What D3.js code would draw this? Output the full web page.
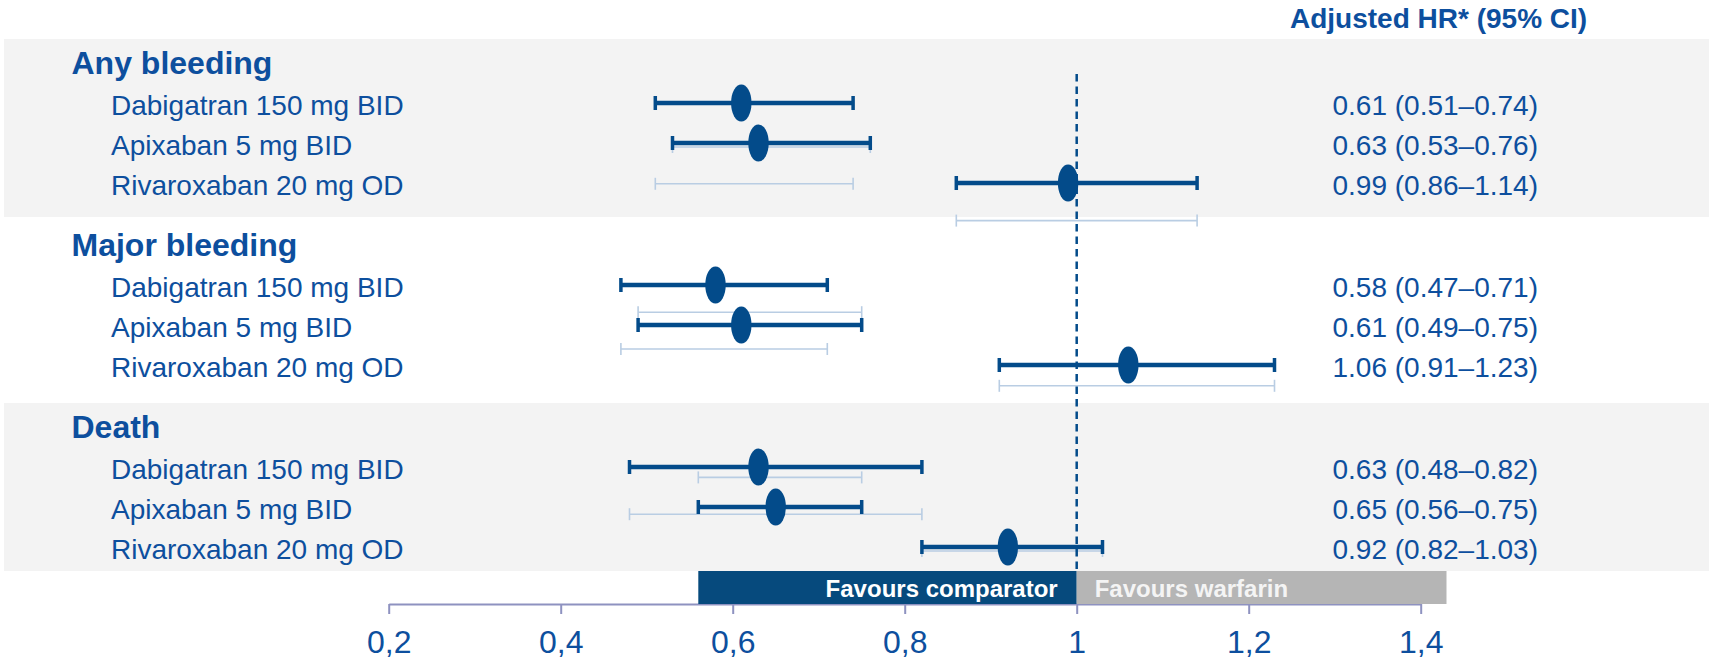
<!DOCTYPE html>
<html>
<head>
<meta charset="utf-8">
<script src="https://cdn.jsdelivr.net/npm/d3@7/dist/d3.min.js"></script>
<style>
  html, body { margin: 0; padding: 0; background: #ffffff; }
  svg { display: block; font-family: "Liberation Sans", Arial, sans-serif; }
</style>
</head>
<body>
<svg id="chart" width="1709" height="663"></svg>
<script>
// ---- data ----
const outcomes = ["Any bleeding", "Major bleeding", "Death"];
const treatments = ["Dabigatran 150 mg BID", "Apixaban 5 mg BID", "Rivaroxaban 20 mg OD"];
// adjusted hazard ratios, one row per outcome x treatment (outcome-major order)
const hrEstimate = [0.61, 0.63, 0.99,  0.58, 0.61, 1.06,  0.63, 0.65, 0.92];
const ciLower    = [0.51, 0.53, 0.86,  0.47, 0.49, 0.91,  0.48, 0.56, 0.82];
const ciUpper    = [0.74, 0.76, 1.14,  0.71, 0.75, 1.23,  0.82, 0.75, 1.03];
// faint reference intervals drawn behind each block (treatment index per faint line)
const faintOrder = [1, 0, 2];
const tickValues = [0.2, 0.4, 0.6, 0.8, 1, 1.2, 1.4];
const favourExtent = [0.56, 1.43];
const headerText = "Adjusted HR* (95% CI)";
const favourLabels = ["Favours comparator", "Favours warfarin"];

// ---- styles / layout ----
const C = {
  text: "#0d4f9e",
  mark: "#034b8a",
  faint: "#b9cde3",
  band: "#f3f3f3",
  favComp: "#064a7d",
  favWarf: "#b5b5b5",
  axis: "#8e92c0"
};
const W = 1709, H = 663;
const axisY = 604;
const barH = 33;
const lineStep = 40;      // px per text line
const groupStride = 4.55; // lines per outcome block
const firstLineY = 63;

const svg = d3.select("#chart");

const x = d3.scaleLinear().domain([0.2, 1.4]).range([388.7, 1420.7]);
const y = d3.scaleLinear().domain([0, 1]).range([firstLineY, firstLineY + lineStep]);

// line position (in line units) of an outcome title and its treatment rows
const titleLine = g => g * groupStride;
const rowLine = (g, r) => g * groupStride + 1 + r;
const faintLine = (g, k) => g * groupStride + 2.1 - 0.42 * g + 0.92 * k;

const rows = [];
outcomes.forEach((o, g) => {
  treatments.forEach((t, r) => {
    const i = g * treatments.length + r;
    rows.push({ g, r, label: t, hr: hrEstimate[i], lo: ciLower[i], hi: ciUpper[i] });
  });
});

// ---- grey blocks behind alternate outcomes ----
const barTop = axisY - barH;
outcomes.forEach((o, g) => {
  if (g % 2 !== 0) return;
  const top = y(titleLine(g) - 0.6);
  const bottom = Math.min(y(rowLine(g, 2) + 0.85), barTop);
  svg.append("rect")
    .attr("x", 4).attr("y", top)
    .attr("width", W - 4).attr("height", bottom - top)
    .attr("fill", C.band);
});

// ---- header ----
svg.append("text")
  .attr("x", 1290).attr("y", 28.3)
  .attr("fill", C.text)
  .attr("font-size", 28).attr("font-weight", "bold")
  .text(headerText);

// ---- outcome titles ----
svg.selectAll("text.outcome")
  .data(outcomes)
  .join("text")
  .attr("class", "outcome")
  .attr("x", 71.5)
  .attr("y", (d, g) => y(titleLine(g)) + 11.3)
  .attr("fill", C.text)
  .attr("font-size", 32).attr("font-weight", "bold")
  .text(d => d);

// ---- treatment labels and value text ----
const fmt = d3.format(".2f");
svg.selectAll("text.treat")
  .data(rows)
  .join("text")
  .attr("class", "treat")
  .attr("x", 111)
  .attr("y", d => y(rowLine(d.g, d.r)) + 12)
  .attr("fill", C.text)
  .attr("font-size", 28)
  .text(d => d.label);

svg.selectAll("text.value")
  .data(rows)
  .join("text")
  .attr("class", "value")
  .attr("x", 1332.5)
  .attr("y", d => y(rowLine(d.g, d.r)) + 12)
  .attr("fill", C.text)
  .attr("font-size", 28)
  .text(d => `${fmt(d.hr)} (${fmt(d.lo)}\u2013${fmt(d.hi)})`);

// ---- faint reference intervals ----
const faint = [];
outcomes.forEach((o, g) => {
  faintOrder.forEach((r, k) => {
    const src = rows[g * treatments.length + r];
    faint.push({ lo: src.lo, hi: src.hi, yy: y(faintLine(g, k)) });
  });
});
const fg = svg.append("g").attr("stroke", C.faint).attr("stroke-width", 1.6).attr("fill", "none");
fg.selectAll("line.f")
  .data(faint).join("line")
  .attr("x1", d => x(d.lo)).attr("x2", d => x(d.hi))
  .attr("y1", d => d.yy).attr("y2", d => d.yy);
fg.selectAll("line.fl")
  .data(faint).join("line")
  .attr("x1", d => x(d.lo)).attr("x2", d => x(d.lo))
  .attr("y1", d => d.yy - 6).attr("y2", d => d.yy + 6);
fg.selectAll("line.fh")
  .data(faint).join("line")
  .attr("x1", d => x(d.hi)).attr("x2", d => x(d.hi))
  .attr("y1", d => d.yy - 6).attr("y2", d => d.yy + 6);

// ---- reference line at HR = 1 ----
svg.append("line")
  .attr("x1", x(1)).attr("x2", x(1))
  .attr("y1", y(0) + 11).attr("y2", barTop)
  .attr("stroke", C.mark).attr("stroke-width", 2.5)
  .attr("stroke-dasharray", "7.5,5");

// ---- confidence intervals and point estimates ----
const mg = svg.append("g");
const rowY = d => y(rowLine(d.g, d.r));
mg.selectAll("line.ci")
  .data(rows).join("line")
  .attr("x1", d => x(d.lo)).attr("x2", d => x(d.hi))
  .attr("y1", rowY).attr("y2", rowY)
  .attr("stroke", C.mark).attr("stroke-width", 4.5);
mg.selectAll("line.capl")
  .data(rows).join("line")
  .attr("x1", d => x(d.lo)).attr("x2", d => x(d.lo))
  .attr("y1", d => rowY(d) - 7).attr("y2", d => rowY(d) + 7)
  .attr("stroke", C.mark).attr("stroke-width", 3.5);
mg.selectAll("line.caph")
  .data(rows).join("line")
  .attr("x1", d => x(d.hi)).attr("x2", d => x(d.hi))
  .attr("y1", d => rowY(d) - 7).attr("y2", d => rowY(d) + 7)
  .attr("stroke", C.mark).attr("stroke-width", 3.5);
mg.selectAll("ellipse")
  .data(rows).join("ellipse")
  .attr("cx", d => x(d.hr)).attr("cy", rowY)
  .attr("rx", 10.2).attr("ry", 18.6)
  .attr("fill", C.mark);

// ---- axis ----
const decimalComma = d3.formatLocale({ decimal: ",", thousands: ".", grouping: [3], currency: ["", ""] });
const tickFmt = decimalComma.format("~g");
const axis = d3.axisBottom(x)
  .tickValues(tickValues)
  .tickSize(10)
  .tickSizeOuter(0)
  .tickFormat(tickFmt);
const ax = svg.append("g").attr("transform", `translate(0,${axisY})`).call(axis);
ax.select(".domain").attr("stroke", C.axis).attr("stroke-width", 2.2);
ax.selectAll(".tick line").attr("stroke", C.axis).attr("stroke-width", 2);
ax.selectAll(".tick text")
  .attr("y", 49).attr("dy", 0)
  .attr("fill", C.text)
  .attr("font-size", 32)
  .attr("font-family", "\"Liberation Sans\", Arial, sans-serif");

// ---- favours bars ----
svg.append("rect")
  .attr("x", x(favourExtent[0])).attr("y", barTop)
  .attr("width", x(1) - x(favourExtent[0])).attr("height", barH)
  .attr("fill", C.favComp);
svg.append("rect")
  .attr("x", x(1)).attr("y", barTop)
  .attr("width", x(favourExtent[1]) - x(1)).attr("height", barH)
  .attr("fill", C.favWarf);
svg.append("text")
  .attr("x", x(1) - 19).attr("y", barTop + 26)
  .attr("text-anchor", "end")
  .attr("fill", "#ffffff").attr("font-size", 24).attr("font-weight", "bold")
  .text(favourLabels[0]);
svg.append("text")
  .attr("x", x(1) + 18).attr("y", barTop + 26)
  .attr("fill", "#f4f4f4").attr("font-size", 24).attr("font-weight", "bold")
  .text(favourLabels[1]);
</script>
</body>
</html>
